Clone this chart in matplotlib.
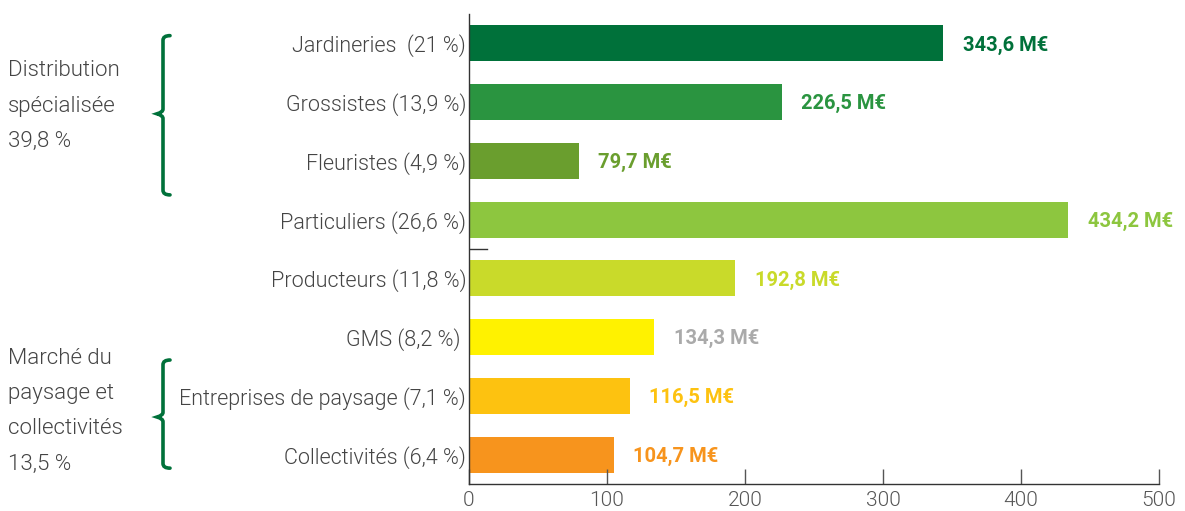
import matplotlib
matplotlib.use("Agg")
import matplotlib.pyplot as plt
from matplotlib.path import Path
from matplotlib.patches import PathPatch
import matplotlib.transforms as mtransforms

categories = ["Jardineries  (21 %)", "Grossistes (13,9 %)", "Fleuristes (4,9 %)",
              "Particuliers (26,6 %)", "Producteurs (11,8 %)", "GMS (8,2 %) ",
              "Entreprises de paysage (7,1 %)", "Collectivités (6,4 %)"]
values = [343.6, 226.5, 79.7, 434.2, 192.8, 134.3, 116.5, 104.7]
value_labels = ["343,6 M€", "226,5 M€", "79,7 M€", "434,2 M€", "192,8 M€",
                "134,3 M€", "116,5 M€", "104,7 M€"]
bar_colors = ["#00713a", "#2a9440", "#6a9e2e", "#8dc63f", "#c9da2a",
              "#fff200", "#fdc210", "#f7941d"]
label_colors = ["#00713a", "#2a9440", "#6a9e2e", "#8dc63f", "#c9da2a",
                "#aaaaaa", "#fdc210", "#f7941d"]
group_texts = ["Distribution\nspécialisée\n39,8 %",
               "Marché du\npaysage et\ncollectivités\n13,5 %"]

# brace layout (top, point, bottom, text centre) in bar-index units
brace_layout = [(-0.13, 1.2, 2.58, 1.07), (5.39, 6.36, 7.23, 6.26)]

plt.rcParams["font.family"] = ["Roboto", "DejaVu Sans"]

fig = plt.figure(figsize=(11.85, 5.11), dpi=100)
ax = fig.add_axes([0.3958, 0.0528, 0.5823, 0.92])

y = list(range(len(values)))
ax.barh(y, values, height=0.61, color=bar_colors)
ax.set_ylim(7.5, -0.5)
ax.set_xlim(0, 500)

for i, (v, lab) in enumerate(zip(values, value_labels)):
    ax.annotate(lab, (v, i + 0.03), xytext=(14, 0), textcoords="offset points",
                va="center", ha="left", fontsize=14.5, fontweight="bold",
                color=label_colors[i])

ax.set_yticks(y)
ax.set_yticklabels(categories, fontsize=15.5, color="#444444", fontweight=300)
ax.tick_params(axis="y", length=0, pad=2)
ax.set_xticks([0, 100, 200, 300, 400, 500])
ax.tick_params(axis="x", direction="in", length=11, width=1, color="#555555",
               labelsize=15, labelcolor="#555555", pad=5)
for lab in ax.get_xticklabels():
    lab.set_fontweight(300)
for s in ["top", "right"]:
    ax.spines[s].set_visible(False)
for s in ["left", "bottom"]:
    ax.spines[s].set_color("#333333")
    ax.spines[s].set_linewidth(1)

# small separator mark between the groups
ax.axhline(3.5, xmin=0, xmax=0.026, color="#333333", lw=1)

# group labels and braces
trans = mtransforms.blended_transform_factory(fig.transFigure, ax.transData)
brace_color = "#00713a"
for text, (top, mid, bot, tc) in zip(group_texts, brace_layout):
    ax.text(8 / 1185, tc, text, transform=trans, ha="left", va="center",
            fontsize=16, color="#444444", linespacing=1.9, fontweight=300)
    xr, xm, xl = 170 / 1185, 163 / 1185, 157 / 1185
    dy = 0.08
    verts = [(xr, top), (xm, top), (xm, top + dy), (xm, top + dy),
             (xm, mid - dy), (xm, mid - dy / 3), (xl, mid),
             (xm, mid + dy / 3), (xm, mid + dy), (xm, mid + dy),
             (xm, bot - dy), (xm, bot - dy), (xm, bot), (xr, bot)]
    codes = [Path.MOVETO, Path.CURVE3, Path.CURVE3, Path.LINETO,
             Path.LINETO, Path.CURVE3, Path.CURVE3,
             Path.CURVE3, Path.CURVE3, Path.LINETO,
             Path.LINETO, Path.LINETO, Path.CURVE3, Path.CURVE3]
    ax.add_patch(PathPatch(Path(verts, codes), transform=trans, fill=False,
                           edgecolor=brace_color, lw=2.6, clip_on=False,
                           capstyle="round"))

fig.savefig("out.png", dpi=100)
